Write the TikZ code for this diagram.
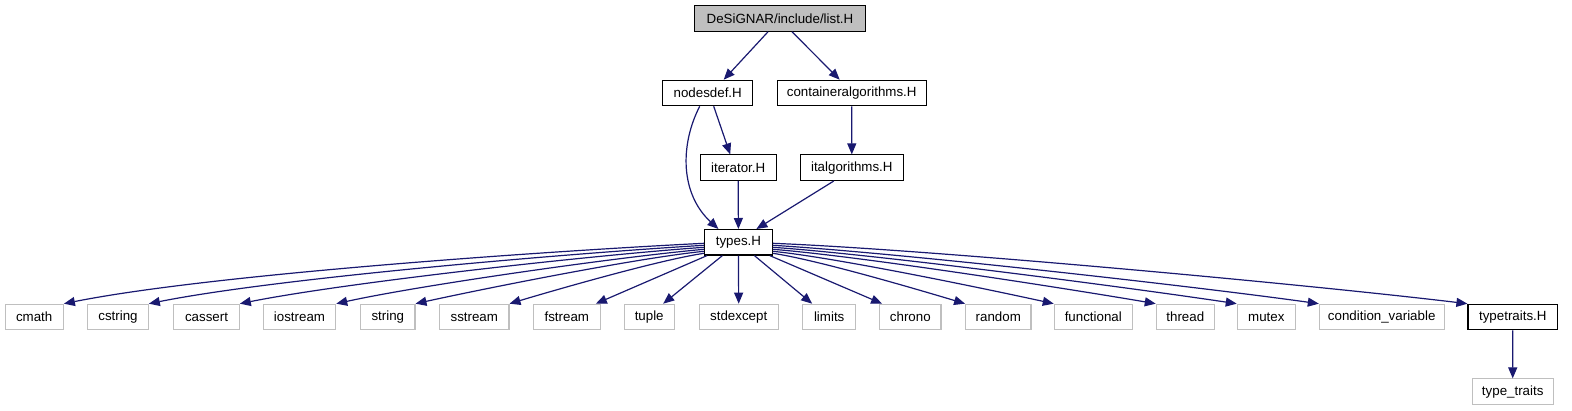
\documentclass[tikz,border=0pt]{standalone}
\usepackage{fontspec}
\setmainfont{Liberation Sans}
\usetikzlibrary{arrows.meta,calc}
\definecolor{edgeblue}{HTML}{191970}
\definecolor{greyline}{HTML}{BFBFBF}
\definecolor{headfill}{HTML}{BFBFBF}
\tikzset{
  filebox/.style={draw=black, line width=1.1pt, fill=white, inner sep=0pt, minimum height=25.5pt,
    font=\fontsize{13.33}{16}\selectfont, text=black},
  extbox/.style={filebox, draw=greyline},
  headbox/.style={filebox, fill=headfill},
  dep/.style={draw=edgeblue, line width=1.2pt, -{Triangle[length=11pt,width=9pt]}},
}
\begin{document}
\begin{tikzpicture}[x=1pt,y=-1pt]
\useasboundingbox (0,0) rectangle (1572,411);
% nodes
\node[headbox, minimum width=171pt] (list) at (780,18.5) {DeSiGNAR/include/list.H};
\node[filebox, minimum width=90pt] (nodesdef) at (707.7,93) {nodesdef.H};
\node[filebox, minimum width=149.3pt] (contalg) at (851.7,93) {containeralgorithms.H};
\node[filebox, minimum width=76.3pt] (iterator) at (738.2,167.7) {iterator.H};
\node[filebox, minimum width=103pt] (italg) at (851.8,167.7) {italgorithms.H};
\node[filebox, minimum width=67.6pt] (types) at (738.4,242.3) {types.H};
\node[extbox, minimum width=58.3pt] (cmath) at (34.2,317) {cmath};
\node[extbox, minimum width=60.6pt] (cstring) at (118,317) {cstring};
\node[extbox, minimum width=65.6pt] (cassert) at (206.5,317) {cassert};
\node[extbox, minimum width=72.4pt] (iostream) at (299.5,317) {iostream};
\node[extbox, minimum width=54.3pt] (string) at (387.8,317) {string};
\node[extbox, minimum width=69.3pt] (sstream) at (474.3,317) {sstream};
\node[extbox, minimum width=67pt] (fstream) at (566.8,317) {fstream};
\node[extbox, minimum width=50.3pt] (tuple) at (649.2,317) {tuple};
\node[extbox, minimum width=79.3pt] (stdexcept) at (738.7,317) {stdexcept};
\node[extbox, minimum width=53pt] (limits) at (829.2,317) {limits};
\node[extbox, minimum width=61.3pt] (chrono) at (910.3,317) {chrono};
\node[extbox, minimum width=65.3pt] (random) at (998.3,317) {random};
\node[extbox, minimum width=78pt] (functional) at (1093.3,317) {functional};
\node[extbox, minimum width=58pt] (thread) at (1185.3,317) {thread};
\node[extbox, minimum width=58pt] (mutex) at (1266.3,317) {mutex};
\node[extbox, minimum width=124.7pt] (condvar) at (1381.7,317) {condition\_variable};
\node[filebox, minimum width=89.7pt] (typetraits) at (1512.8,317) {typetraits.H};
\node[extbox, minimum width=81.3pt] (typetraitsstd) at (1512.7,391.7) {type\_traits};
% upper edges
\draw[dep] ($(list.south)+(-12,0)$) -- ($(nodesdef.north)+(16,0)$);
\draw[dep] ($(list.south)+(12,0)$) -- ($(contalg.north)+(-12,0)$);
\draw[dep] ($(nodesdef.south)+(6,0)$) -- ($(iterator.north)+(-8,0)$);
\draw[dep] ($(nodesdef.south)+(-8,0)$) .. controls +(-20,39) and +(-38,-35) .. ($(types.north)+(-20,0)$);
\draw[dep] (iterator.south) -- (types.north);
\draw[dep] (contalg.south) -- (italg.north);
\draw[dep] ($(italg.south)+(-18,0)$) -- ($(types.north)+(18,0)$);
% left fan
\draw[dep] ($(types.west)+(0,1)$) .. controls +(-150,7.5) and +(150,-30) .. (cmath.north east);
\draw[dep] ($(types.west)+(0,3)$) .. controls +(-130,7.8) and +(130,-26) .. (cstring.north east);
\draw[dep] ($(types.west)+(0,5)$) .. controls +(-107,7.5) and +(107,-21.4) .. (cassert.north east);
\draw[dep] ($(types.west)+(0,7)$) .. controls +(-85,7.6) and +(85,-18.7) .. (iostream.north east);
\draw[dep] ($(types.west)+(0,9)$) .. controls +(-67,6.7) and +(67,-14.7) .. (string.north east);
\draw[dep] ($(types.west)+(0,11)$) .. controls +(-45,6.7) and +(45,-13.5) .. (sstream.north east);
% bottom
\draw[dep] ($(types.south west)+(3,0)$) -- ($(fstream.north east)+(-5,0)$);
\draw[dep] ($(types.south)+(-16,0)$) -- ($(tuple.north)+(14,0)$);
\draw[dep] (types.south) -- (stdexcept.north);
\draw[dep] ($(types.south)+(16,0)$) -- ($(limits.north west)+(10,0)$);
\draw[dep] ($(types.south east)+(-3,0)$) -- ($(chrono.north west)+(3,0)$);
% right fan
\draw[dep] ($(types.east)+(0,11)$) .. controls +(45,6.7) and +(-45,-13.5) .. (random.north west);
\draw[dep] ($(types.east)+(0,9)$) .. controls +(64,6.4) and +(-64,-14) .. (functional.north west);
\draw[dep] ($(types.east)+(0,7)$) .. controls +(88,7) and +(-88,-15) .. (thread.north west);
\draw[dep] ($(types.east)+(0,5)$) .. controls +(107,7.5) and +(-107,-16) .. (mutex.north west);
\draw[dep] ($(types.east)+(0,3)$) .. controls +(126,7.6) and +(-126,-17.6) .. (condvar.north west);
\draw[dep] ($(types.east)+(0,1)$) .. controls +(160,6.4) and +(-160,-19.2) .. (typetraits.north west);
\draw[dep] (typetraits.south) -- (typetraitsstd.north);
\end{tikzpicture}
\end{document}
